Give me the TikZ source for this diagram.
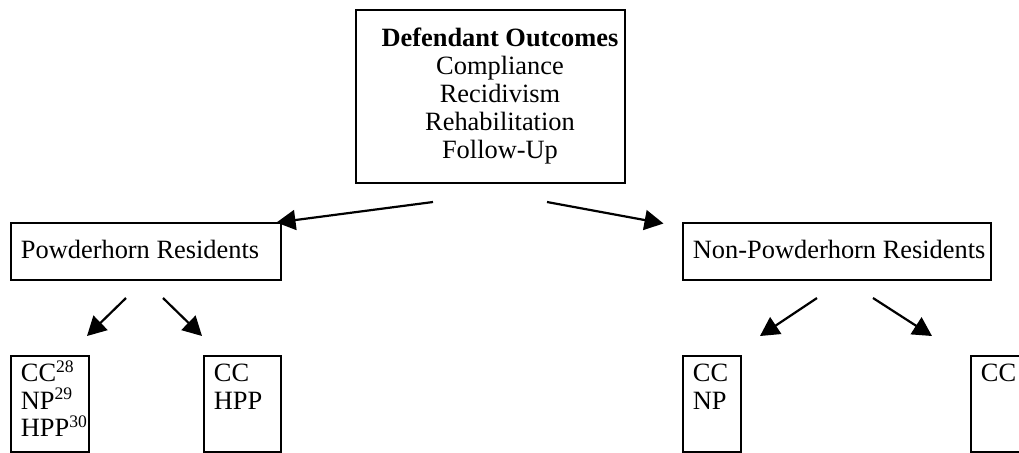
\documentclass[tikz,border=0pt]{standalone}
\usepackage{fontspec}
\setmainfont{Liberation Serif}
\usetikzlibrary{arrows.meta}

\newcommand{\supnum}[1]{\raisebox{4.8pt}{\fontsize{8.8}{8.8}\selectfont #1}}
\newcommand{\grouplist}[2]{\parbox[c][44pt][t]{#1}{\raggedright\rule{0pt}{11pt}#2}}

\tikzset{
    box/.style={draw, line width=0.9pt, anchor=north west, inner ysep=0pt},
    resbox/.style={box, inner xsep=5pt, minimum height=28.5pt, text height=9pt, text depth=2pt},
    groupbox/.style={box, inner xsep=5pt, inner ysep=2pt},
    link/.style={line width=1.1pt, -{Triangle[length=9.5pt,width=10pt]}}
}

\begin{document}
\begin{tikzpicture}[x=0.5pt, y=-0.5pt, font=\fontsize{13.2}{13.75}\selectfont]
            \useasboundingbox (0,0) rectangle (1019,452);
            \clip (0,0) rectangle (1019,452);

            \node[draw, line width=0.9pt, minimum width=134.5pt, minimum height=86.5pt, inner sep=0pt] (outcomes) at (490.5,96.5)
                {\hspace*{9.5pt}\fontsize{13.2}{14}\selectfont\begin{tabular}{@{}c@{}}\textbf{Defendant Outcomes}\\ Compliance\\ Recidivism\\ Rehabilitation\\ Follow-Up\end{tabular}};

            \node[resbox] (powderhorn) at (10,222) {\makebox[125pt][l]{Powderhorn Residents}};
            \node[resbox] (nonpowderhorn) at (682,222) {\makebox[144pt][l]{Non-Powderhorn Residents}};

            \node[groupbox] (ccnphpp) at (10,355) {\grouplist{29pt}{CC\supnum{28}\\NP\supnum{29}\\HPP\supnum{30}}};
            \node[groupbox] (cchpp) at (203,355) {\grouplist{28.5pt}{CC\\HPP}};
            \node[groupbox] (ccnp) at (682,355) {\grouplist{19pt}{CC\\NP}};
            \node[groupbox] (cconly) at (970,355) {\grouplist{19pt}{CC}};

            \coordinate (A) at (433,202);
            \coordinate (B) at (276.5,222.5);
            \coordinate (C) at (547,202);
            \coordinate (D) at (663.5,223.5);
            \coordinate (E) at (126,298);
            \coordinate (F) at (87,336);
            \coordinate (G) at (163,298);
            \coordinate (H) at (202,336);
            \coordinate (I) at (817,298);
            \coordinate (J) at (760,336);
            \coordinate (K) at (873,298);
            \coordinate (L) at (932,336);

            \draw[link] (A) -- (B);
            \draw[link] (C) -- (D);
            \draw[link] (E) -- (F);
            \draw[link] (G) -- (H);
            \draw[link] (I) -- (J);
            \draw[link] (K) -- (L);
        \end{tikzpicture}
\end{document}
